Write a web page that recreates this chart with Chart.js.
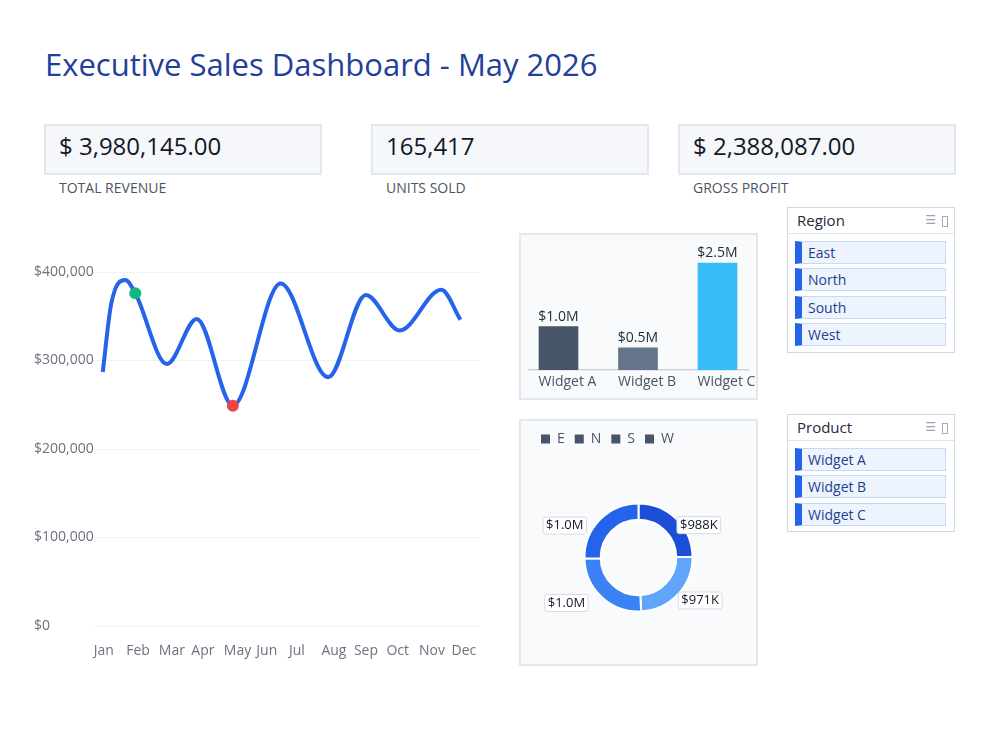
<!DOCTYPE html>
<html>
<head>
<meta charset="utf-8">
<script src="https://cdn.jsdelivr.net/npm/chart.js@4.4.1/dist/chart.umd.min.js"></script>
<style>
body { margin: 0; background: #fff; font-family: 'Open Sans', sans-serif; }
#page { position: relative; width: 1000px; height: 750px; overflow: hidden; }
h1 { position: absolute; left: 45px; top: 44px; margin: 0; font-size: 31px; font-weight: 400; color: #22409a; line-height: 40px; white-space: nowrap; }
.kpi { position: absolute; top: 124px; width: 278px; height: 51px; box-sizing: border-box; background: #f5f7fb; border: 2px solid #e2e8f0; }
.kpi .val { position: absolute; left: 13px; top: 5px; font-size: 24px; line-height: 30px; color: #111827; white-space: nowrap; }
.kpi-label { position: absolute; top: 178px; font-size: 14px; color: #4b5563; white-space: nowrap; }
.panel { position: absolute; box-sizing: border-box; background: #f8fafc; border: 2px solid #e2e8f0; }
canvas { position: absolute; }
.slicer { position: absolute; left: 787px; width: 168px; box-sizing: border-box; background: #fff; border: 1.5px solid #cfd9e8; }
.slicer .head { height: 25px; border-bottom: 1.5px solid #dbe3ee; position: relative; }
.slicer .t { position: absolute; left: 9px; top: 0; line-height: 25px; font-size: 15px; color: #1f2937; }
.slicer .ic { position: absolute; right: 18px; top: 0; line-height: 25px; font-size: 12px; color: #9ca3af; font-family: 'DejaVu Sans', sans-serif; }
.slicer .box { position: absolute; right: 6px; top: 8px; width: 4px; height: 9px; border: 1px solid #a3acb9; }
.item { position: absolute; left: 7px; width: 151px; height: 23px; box-sizing: border-box; background: #eef4fd; border: 1px solid #c5d8f6; border-left: 7px solid #2563eb; padding-left: 6px; line-height: 21px; font-size: 14px; color: #233f8f; white-space: nowrap; }
</style>
</head>
<body>
<div id="page">
  <h1>Executive Sales Dashboard - May 2026</h1>
  <div id="kpis"></div>

  <canvas id="trend" width="480" height="440" style="left:20px;top:230px;"></canvas>

  <div class="panel" style="left:519px;top:233px;width:239px;height:167px;"></div>
  <canvas id="bars" width="239" height="167" style="left:519px;top:233px;"></canvas>

  <div class="panel" style="left:519px;top:419px;width:239px;height:247px;"></div>
  <canvas id="donut" width="239" height="247" style="left:519px;top:419px;"></canvas>

  <div class="slicer" id="regionSlicer" style="top:207px;height:146px;">
    <div class="head"><span class="t">Region</span><span class="ic">☰</span><span class="box"></span></div>
  </div>
  <div class="slicer" id="productSlicer" style="top:414px;height:118px;">
    <div class="head"><span class="t">Product</span><span class="ic">☰</span><span class="box"></span></div>
  </div>
</div>

<script>
// KPI cards
const KPI_VALUES = ['$ 3,980,145.00', '165,417', '$ 2,388,087.00'];
const KPI_LABELS = ['TOTAL REVENUE', 'UNITS SOLD', 'GROSS PROFIT'];
const KPI_LEFT = [44, 371, 678];

// monthly revenue trend (x in month index, turning points)
const MONTHS = ['Jan', 'Feb', 'Mar', 'Apr', 'May', 'Jun', 'Jul', 'Aug', 'Sep', 'Oct', 'Nov', 'Dec'];
const TREND_X = [0, 0.26, 0.69, 1, 1.97, 2.89, 4, 5.47, 6.93, 8.09, 9.13, 10.41, 11];
const TREND_Y = [287000, 364000, 391000, 376000, 296000, 347000, 249000, 387000, 281000, 374000, 334000, 380000, 346000];
const MARK_X = [1, 4];
const MARK_Y = [376000, 249000];
const Y_TICKS = [0, 100000, 200000, 300000, 400000];

// product sales
const PRODUCTS = ['Widget A', 'Widget B', 'Widget C'];
const PRODUCT_SALES = [1000000, 510000, 2470000];

// region sales
const REGION_CODES = ['E', 'N', 'S', 'W'];
const REGION_NAMES = ['East', 'North', 'South', 'West'];
const REGION_SALES = [988000, 971000, 1015000, 1006000];

Chart.defaults.font.family = "'Open Sans', sans-serif";
Chart.defaults.animation = false;

const kpis = document.getElementById('kpis');
KPI_VALUES.forEach((v, i) => {
    const box = document.createElement('div');
    box.className = 'kpi';
    box.style.left = KPI_LEFT[i] + 'px';
    box.innerHTML = '<div class="val">' + v + '</div>';
    kpis.appendChild(box);
    const lab = document.createElement('div');
    lab.className = 'kpi-label';
    lab.style.left = (KPI_LEFT[i] + 15) + 'px';
    lab.textContent = KPI_LABELS[i];
    kpis.appendChild(lab);
});

function addItems(id, names) {
    const el = document.getElementById(id);
    names.forEach((n, i) => {
        const it = document.createElement('div');
        it.className = 'item';
        it.style.top = (33 + i * 27.4) + 'px';
        it.textContent = n;
        el.appendChild(it);
    });
}
addItems('regionSlicer', REGION_NAMES);
addItems('productSlicer', PRODUCTS);

function money(v) {
    if (v >= 1000000) return '$' + (v / 1000000).toFixed(1) + 'M';
    return '$' + Math.round(v / 1000) + 'K';
}

// line chart
new Chart(document.getElementById('trend'), {
    type: 'line',
    data: {
        datasets: [
            {
                data: MARK_X.map((x, i) => ({ x: x, y: MARK_Y[i] })),
                showLine: false,
                pointRadius: 6,
                pointBorderWidth: 0,
                pointBackgroundColor: ['#10b981', '#ef4444'],
            },
            {
                data: TREND_X.map((x, i) => ({ x: x, y: TREND_Y[i] })),
                borderColor: '#2563eb',
                borderWidth: 4,
                pointRadius: 0,
                cubicInterpolationMode: 'monotone',
                fill: false,
            },
        ],
    },
    options: {
        responsive: false,
        layout: { padding: { left: 14, top: 42, right: 20, bottom: 4 } },
        plugins: { legend: { display: false }, tooltip: { enabled: false } },
        scales: {
            x: {
                type: 'linear',
                min: -0.3,
                max: 11.6,
                grid: { display: false, drawTicks: false },
                border: { display: false },
                afterBuildTicks: (s) => { s.ticks = MONTHS.map((m, i) => ({ value: i })); },
                afterFit: (s) => { s.paddingLeft = 0; s.paddingRight = 0; s.height = 40; },
                ticks: {
                    autoSkip: false,
                    maxRotation: 0,
                    align: 'start',
                    labelOffset: -9,
                    padding: 17,
                    color: '#6b7280',
                    font: { size: 14 },
                    callback: (v) => MONTHS[v],
                },
            },
            y: {
                min: 0,
                max: 400000,
                afterBuildTicks: (s) => { s.ticks = Y_TICKS.map((v) => ({ value: v })); },
                afterFit: (s) => { s.width = 59; },
                grid: { color: '#eef1f5', drawTicks: false },
                border: { display: false },
                ticks: {
                    crossAlign: 'far',
                    padding: 0,
                    color: '#6b7280',
                    font: { size: 14 },
                    callback: (v) => '$' + v.toLocaleString('en-US'),
                },
            },
        },
    },
});

// bar chart with value labels
const barLabels = {
    id: 'barLabels',
    afterDatasetsDraw(chart) {
        const ctx = chart.ctx;
        const meta = chart.getDatasetMeta(0);
        ctx.save();
        ctx.font = '14px "Open Sans"';
        ctx.fillStyle = '#1f2937';
        ctx.textAlign = 'center';
        ctx.textBaseline = 'bottom';
        meta.data.forEach((bar, i) => {
            ctx.fillText('$' + (PRODUCT_SALES[i] / 1000000).toFixed(1) + 'M', bar.x, bar.y - 3);
        });
        ctx.restore();
    },
};

new Chart(document.getElementById('bars'), {
    type: 'bar',
    data: {
        datasets: [
            {
                data: PRODUCTS.map((p, i) => ({ x: i, y: PRODUCT_SALES[i] })),
                backgroundColor: ['#475569', '#64748b', '#38bdf8'],
                barThickness: 39,
            },
        ],
    },
    options: {
        responsive: false,
        layout: { padding: { left: 10, right: 10, top: 7, bottom: 8 } },
        plugins: { legend: { display: false }, tooltip: { enabled: false } },
        scales: {
            x: {
                type: 'linear',
                offset: false,
                min: -0.371,
                max: 2.384,
                grid: { display: false, drawTicks: false },
                border: { display: true, color: '#c9d4e4', width: 1.5 },
                afterBuildTicks: (s) => { s.ticks = PRODUCTS.map((p, i) => ({ value: i })); },
                afterFit: (s) => { s.paddingLeft = 0; s.paddingRight = 0; s.height = 22; },
                ticks: {
                    autoSkip: false,
                    maxRotation: 0,
                    align: 'start',
                    labelOffset: -20,
                    padding: 4,
                    color: '#4b5563',
                    font: { size: 14 },
                    callback: (v) => PRODUCTS[v],
                },
            },
            y: { display: false, min: 0, max: 3000000 },
        },
    },
    plugins: [barLabels],
});

// doughnut with boxed labels
const donutLabels = {
    id: 'donutLabels',
    afterDatasetsDraw(chart) {
        const ctx = chart.ctx;
        const meta = chart.getDatasetMeta(0);
        ctx.save();
        ctx.font = '13px "Open Sans"';
        ctx.textBaseline = 'middle';
        ctx.textAlign = 'center';
        meta.data.forEach((arc, i) => {
            const p = arc.getProps(['x', 'y', 'startAngle', 'endAngle', 'outerRadius'], true);
            const a = (p.startAngle + p.endAngle) / 2;
            const px = p.x + Math.cos(a) * p.outerRadius;
            const py = p.y + Math.sin(a) * p.outerRadius;
            const text = money(REGION_SALES[i]);
            const w = ctx.measureText(text).width + 6;
            const h = 17;
            const left = Math.cos(a) >= 0 ? px : px - 14 - w;
            const top = py - 3;
            ctx.fillStyle = '#ffffff';
            ctx.strokeStyle = '#d6dbe3';
            ctx.lineWidth = 1;
            ctx.beginPath();
            ctx.roundRect(left + 0.5, top + 0.5, w, h, 2);
            ctx.fill();
            ctx.stroke();
            ctx.fillStyle = '#111827';
            ctx.fillText(text, left + 0.5 + w / 2, top + 0.5 + h / 2);
        });
        ctx.restore();
    },
};

new Chart(document.getElementById('donut'), {
    type: 'doughnut',
    data: {
        labels: REGION_CODES,
        datasets: [
            {
                data: REGION_SALES,
                backgroundColor: ['#1d4ed8', '#60a5fa', '#3b82f6', '#2563eb'],
                borderColor: '#ffffff',
                borderWidth: 2,
                hoverBorderWidth: 2,
            },
        ],
    },
    options: {
        responsive: false,
        radius: 54,
        cutout: '70%',
        layout: { padding: { left: 12, right: 12, top: 3, bottom: 7 } },
        plugins: {
            tooltip: { enabled: false },
            legend: {
                position: 'top',
                align: 'start',
                labels: {
                    boxWidth: 9,
                    boxHeight: 9,
                    padding: 10,
                    color: '#475569',
                    font: { size: 14 },
                    generateLabels: (chart) => REGION_CODES.map((c, i) => ({
                        text: c,
                        fillStyle: '#475569',
                        strokeStyle: '#475569',
                        lineWidth: 0,
                        fontColor: '#475569',
                        hidden: false,
                        index: i,
                    })),
                },
            },
        },
    },
    plugins: [donutLabels],
});
</script>
</body>
</html>
